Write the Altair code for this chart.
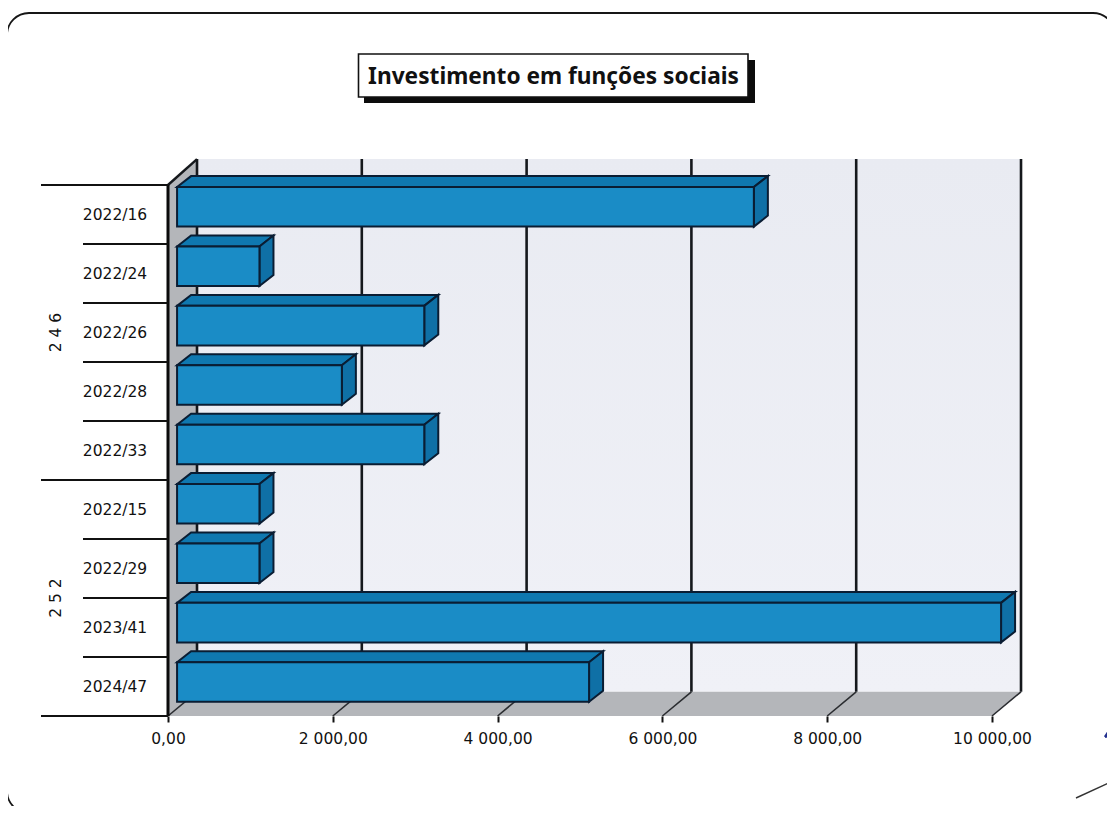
import altair as alt
import pandas as pd

# ---- values ----
categories = ["2022/16", "2022/24", "2022/26", "2022/28", "2022/33", "2022/15", "2022/29", "2023/41", "2024/47"]
values = [7000, 1000, 3000, 2000, 3000, 1000, 1000, 10000, 5000]
group_names = ["2 4 6", "2 5 2"]
group_spans = [(0, 5), (5, 9)]
tick_values = [0, 2000, 4000, 6000, 8000, 10000]
title_text = "Investimento em funções sociais"

# ---- scene constants, in data units ----
N = len(categories)
WALL_DX, WALL_DY_TOP, WALL_DY_BOT = 352, -0.44, -0.41
BAR_START, BAR_DX, BAR_DY, BAR_H = 110, 170, 0.186, 0.67
ROW_PITCH, ROW_FIRST = 1.0068, 0.035
LABEL_FONT = "DejaVu Sans"

xs = alt.Scale(domain=[0, 10000], range=[0, 824], nice=False, zero=False, clamp=False)
ys = alt.Scale(domain=[0, 9], range=[0, 531], nice=False, zero=False, clamp=False)
x_axis = alt.Axis(
    values=tick_values, orient="bottom", domain=False, grid=False, title=None, zindex=1,
    tickColor="#111111", tickWidth=2, tickSize=6, labelPadding=9,
    labelFont=LABEL_FONT, labelFontSize=15.5, labelColor="#111111",
    labelOverlap=False, labelFlush=False,
    labelExpr="replace(replace(format(datum.value, ',.2f'), /,/g, ' '), /[.]/g, ',')",
)
X = alt.X("x:Q", scale=xs, axis=x_axis)
Y = alt.Y("y:Q", scale=ys, axis=None)

# faces of the bars
front, top_face, side_face = [], [], []
for i, v in enumerate(values):
    x1 = v + BAR_START
    yf = ROW_FIRST + ROW_PITCH * i
    yb = yf - BAR_DY
    front.append(dict(x=BAR_START, x2=x1, y=yf, y2=yf + BAR_H))
    for x, a, b in [(BAR_START, yf, yf), (BAR_START + BAR_DX, yb, yf), (x1, yb, yf), (x1 + BAR_DX, yb, yb)]:
        top_face.append(dict(shape=i, x=x, y=a, y2=b))
    for x, a, b in [(x1, yf, yf + BAR_H), (x1 + BAR_DX, yb, yf + BAR_H - BAR_DY)]:
        side_face.append(dict(shape=i, x=x, y=a, y2=b))


def face(rows, fill, stroke="#0a1d33", sw=2):
    return alt.Chart(pd.DataFrame(rows)).mark_area(
        orient="vertical", fill=fill, stroke=stroke, strokeWidth=sw, opacity=1, clip=False
    ).encode(x=X, y=Y, y2=alt.Y2("y2:Q"), detail="shape:N")


def rect_px(x, x2, y, y2, **kw):
    return alt.Chart(pd.DataFrame([{"a": 0}])).mark_rect(**kw).encode(
        x=alt.value(x), x2=alt.value(x2), y=alt.value(y), y2=alt.value(y2)
    )


def rule_px(x, x2, y, y2, color, w):
    return alt.Chart(pd.DataFrame([{"a": 0}])).mark_rule(color=color, strokeWidth=w).encode(
        x=alt.value(x), x2=alt.value(x2), y=alt.value(y), y2=alt.value(y2)
    )


# page frame and title box
frame = rect_px(-161, 947, -172, 628, fill="white", stroke="#161616", strokeWidth=1.8, cornerRadius=22)
shadow = rect_px(196, 587, -125, -82, fill="#0c0c0c")
box = rect_px(190.5, 580, -131, -88, fill="white", stroke="#111111", strokeWidth=1.6)
title = alt.Chart(pd.DataFrame([{"t": title_text}])).mark_text(
    font="Noto Sans", fontWeight="bold", fontSize=22.7, color="#111111", align="center", baseline="middle"
).encode(x=alt.value(385.5), y=alt.value(-108), text="t:N")

# walls and floor
wall = alt.Chart(pd.DataFrame([dict(x=WALL_DX, x2=10000 + WALL_DX, y=WALL_DY_TOP, y2=N + WALL_DY_BOT)])).mark_rect(
    fill=alt.Gradient(gradient="linear", x1=0, y1=0, x2=0, y2=1,
                      stops=[alt.GradientStop(offset=0, color="#e9ebf2"), alt.GradientStop(offset=1, color="#f0f1f7")])
).encode(x=X, x2=alt.X2("x2:Q"), y=Y, y2=alt.Y2("y2:Q"))
left_wall = face([dict(shape=0, x=0, y=0, y2=N), dict(shape=0, x=WALL_DX, y=WALL_DY_TOP, y2=N + WALL_DY_BOT)],
                 "#b4b6ba", stroke="#b4b6ba", sw=0)
floor = face([dict(shape=0, x=0, y=N, y2=N),
              dict(shape=0, x=WALL_DX, y=N + WALL_DY_BOT, y2=N),
              dict(shape=0, x=10000, y=N + WALL_DY_BOT, y2=N),
              dict(shape=0, x=10000 + WALL_DX, y=N + WALL_DY_BOT, y2=N + WALL_DY_BOT)],
             "#b4b6ba", stroke="#b4b6ba", sw=0)

# grid: upright lines on the back wall, diagonals across the floor
grid_df = pd.DataFrame([dict(x=t + WALL_DX, y=WALL_DY_TOP, y2=N + WALL_DY_BOT) for t in tick_values])
grid = alt.Chart(grid_df).mark_rule(color="#15181c", strokeWidth=2.6).encode(x=X, y=Y, y2=alt.Y2("y2:Q"))
diag_df = pd.DataFrame([dict(x=t, x2=t + WALL_DX, y=N, y2=N + WALL_DY_BOT) for t in tick_values])
diag = alt.Chart(diag_df).mark_rule(color="#2a2c30", strokeWidth=1.6).encode(
    x=X, x2=alt.X2("x2:Q"), y=Y, y2=alt.Y2("y2:Q"))
corner_diag = alt.Chart(pd.DataFrame([dict(x=0, x2=WALL_DX, y=0, y2=WALL_DY_TOP)])).mark_rule(
    color="#15181c", strokeWidth=2.4).encode(x=X, x2=alt.X2("x2:Q"), y=Y, y2=alt.Y2("y2:Q"))

# bars
bars_front = alt.Chart(pd.DataFrame(front)).mark_rect(
    fill="#1a8cc6", stroke="#0a1d33", strokeWidth=2
).encode(x=X, x2=alt.X2("x2:Q"), y=Y, y2=alt.Y2("y2:Q"))
bars_top = face(top_face, "#0f78b0")
bars_side = face(side_face, "#0f70a6")

# category axis drawn as rules and text
spine = alt.Chart(pd.DataFrame([dict(x=0, y=0, y2=N)])).mark_rule(color="#0b0b0b", strokeWidth=3).encode(
    x=X, y=Y, y2=alt.Y2("y2:Q"))
boundaries = sorted({s for span in group_spans for s in span})
sep = alt.layer(*[
    alt.Chart(pd.DataFrame([dict(y=i)])).mark_rule(color="#111111", strokeWidth=1.8).encode(
        x=alt.value(-127 if i in boundaries else -85), x2=alt.value(0), y=Y)
    for i in range(N + 1)
])
cat_df = pd.DataFrame({"y": [i + 0.5 for i in range(N)], "t": categories})
cat_labels = alt.Chart(cat_df).mark_text(
    font=LABEL_FONT, fontSize=15.5, color="#111111", align="center", baseline="middle"
).encode(x=alt.value(-53), y=Y, text="t:N")
grp_df = pd.DataFrame({"y": [(a + b) / 2 for a, b in group_spans], "t": group_names})
grp_labels = alt.Chart(grp_df).mark_text(
    font=LABEL_FONT, fontSize=15.5, color="#111111", align="center", baseline="middle", angle=270
).encode(x=alt.value(-112), y=Y, text="t:N")

# handwritten marks in the corner of the page
scribble = alt.layer(
    rule_px(947, 937, 537, 552, "#22308f", 2.4),
    rule_px(937, 947, 552, 548, "#22308f", 2.4),
    rule_px(908, 945, 613, 596, "#333333", 1.4),
    rule_px(947, 944, 575, 595, "#333333", 1.2),
    rule_px(945, 937, 615, 629, "#333333", 1.0),
)

chart = alt.layer(
    frame, shadow, box, title,
    wall, left_wall, floor, grid, diag, corner_diag,
    bars_top, bars_side, bars_front,
    spine, sep, cat_labels, grp_labels, scribble,
).properties(
    width=824, height=531,
    autosize=alt.AutoSizeParams(type="none"),
    padding={"left": 160, "top": 177, "right": 115, "bottom": 90},
    background="white",
).configure_view(stroke=None)

chart.save("out.html", embed_options={"renderer": "svg", "actions": False})
